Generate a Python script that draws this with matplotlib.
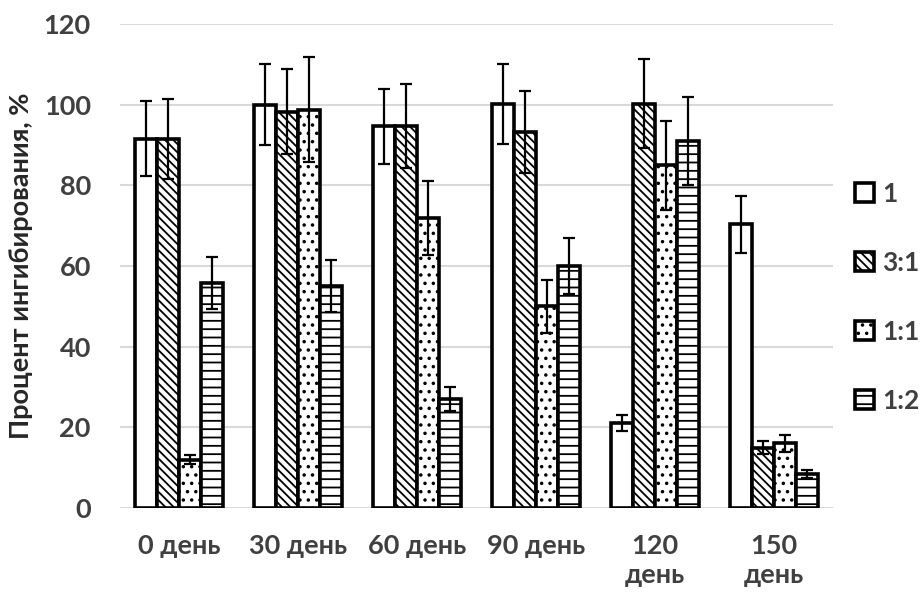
import numpy as np
import matplotlib.pyplot as plt

categories = ["0 день", "30 день", "60 день", "90 день", "120\nдень", "150\nдень"]
series_names = ["1", "3:1", "1:1", "1:2"]
values = {
    "1":   [91.5, 100.0, 94.7, 100.2, 21.0, 70.3],
    "3:1": [91.5, 98.3, 94.7, 93.3, 100.2, 15.0],
    "1:1": [12.0, 98.8, 72.0, 50.0, 85.0, 16.0],
    "1:2": [55.8, 55.0, 27.0, 60.0, 91.0, 8.5],
}
errors = {
    "1":   [9.3, 10.0, 9.3, 10.0, 2.0, 7.0],
    "3:1": [10.0, 10.5, 10.5, 10.2, 11.0, 1.5],
    "1:1": [1.2, 13.0, 9.2, 6.5, 11.0, 2.0],
    "1:2": [6.5, 6.4, 3.0, 7.0, 10.8, 1.0],
}
hatches = {"1": "", "3:1": "\\\\\\\\", "1:1": "..", "1:2": "--"}

plt.rcParams["font.family"] = ["Lato", "Open Sans", "DejaVu Sans"]
plt.rcParams["hatch.linewidth"] = 1.3

fig = plt.figure(figsize=(9.23, 6.03), dpi=100)
ax = fig.add_axes([0.130, 0.1575, 0.7725, 0.8027])

x = np.arange(len(categories))
w = 0.185
for i, name in enumerate(series_names):
    ax.bar(x + (i - 1.5) * w, values[name], w, yerr=errors[name],
           facecolor="white", edgecolor="black", linewidth=2.6,
           hatch=hatches[name], label=name, zorder=3,
           error_kw=dict(ecolor="black", elinewidth=1.6, capsize=4, capthick=1.6, zorder=4))

ax.set_xlim(-0.5, len(categories) - 0.5)
ax.set_ylim(0, 120)
ax.set_yticks(range(0, 121, 20))
ax.set_xticks(x)
ax.set_xticklabels(categories, linespacing=1.25)
ax.grid(axis="y", color="#d9d9d9", linewidth=1.5, zorder=0)
for s in ax.spines.values():
    s.set_visible(False)
ax.tick_params(axis="y", length=0, labelsize=19.5, labelcolor="#404040", pad=21)
ax.tick_params(axis="x", length=0, labelsize=19.5, labelcolor="#404040", pad=19)
for lab in ax.get_xticklabels() + ax.get_yticklabels():
    lab.set_fontweight("bold")
ax.set_ylabel("Процент ингибирования, %", fontsize=19.5, fontweight="bold",
              color="#262626", labelpad=8)

leg = fig.legend(loc="center left", bbox_to_anchor=(0.926, 0.507), frameon=False,
                 borderpad=0, borderaxespad=0, labelspacing=1.7, handlelength=0.75,
                 handleheight=0.75, handletextpad=0.3, prop={"size": 19, "weight": "bold"})
for t in leg.get_texts():
    t.set_color("#404040")

fig.savefig("out.png", dpi=100)
